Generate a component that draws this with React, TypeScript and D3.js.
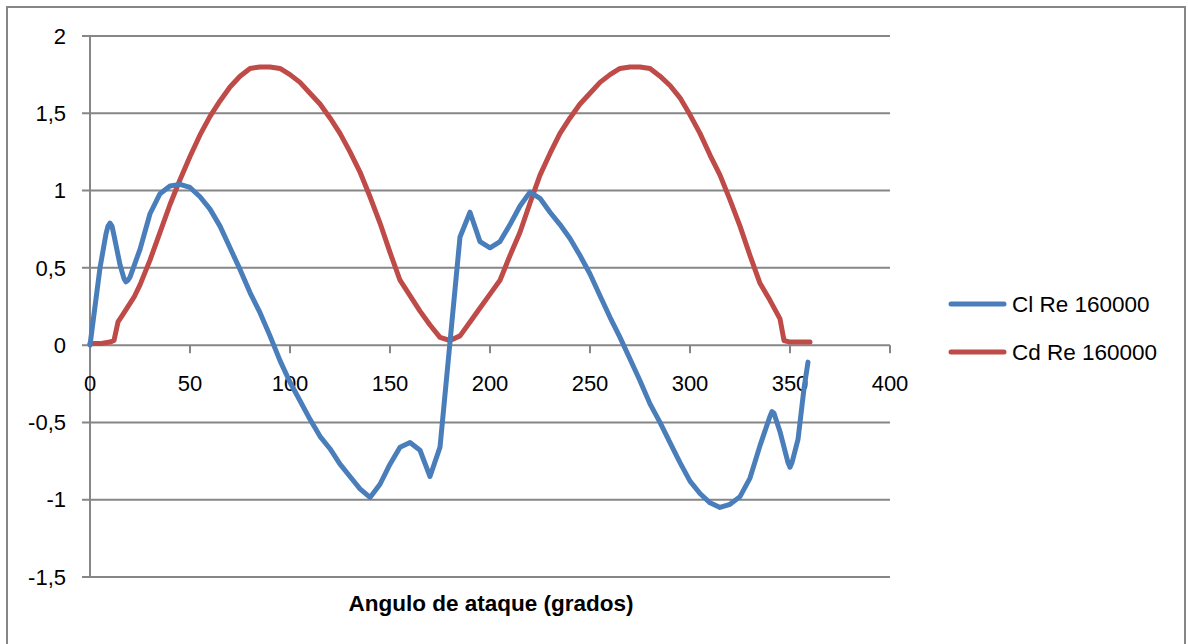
import React from 'react';
import * as d3 from 'd3';

// angle of attack (deg) and coefficients
const clAngles = [0, 5, 8, 9, 10, 11, 12, 15, 17, 18, 19, 20, 25, 30, 35, 40, 45, 50, 55, 60, 65, 70, 75, 80, 85, 90, 95, 100, 105, 110, 115, 120, 125, 130, 135, 140, 145, 150, 155, 160, 165, 170, 175, 185, 190, 195, 200, 205, 210, 215, 220, 225, 230, 235, 240, 245, 250, 255, 260, 265, 270, 275, 280, 285, 290, 295, 300, 305, 310, 315, 320, 325, 330, 335, 340, 341, 342, 345, 349, 350, 351, 354, 357, 359];
const clValues = [0, 0.5, 0.72, 0.77, 0.79, 0.77, 0.71, 0.52, 0.43, 0.41, 0.42, 0.44, 0.62, 0.85, 0.98, 1.03, 1.04, 1.02, 0.96, 0.88, 0.77, 0.63, 0.49, 0.34, 0.21, 0.06, -0.1, -0.24, -0.36, -0.48, -0.59, -0.67, -0.77, -0.85, -0.93, -0.985, -0.9, -0.77, -0.66, -0.63, -0.68, -0.85, -0.66, 0.7, 0.86, 0.67, 0.63, 0.67, 0.78, 0.9, 0.99, 0.95, 0.86, 0.78, 0.69, 0.58, 0.46, 0.32, 0.18, 0.05, -0.09, -0.23, -0.38, -0.5, -0.63, -0.76, -0.88, -0.96, -1.02, -1.05, -1.03, -0.98, -0.86, -0.65, -0.46, -0.43, -0.44, -0.56, -0.76, -0.79, -0.76, -0.61, -0.28, -0.11];

const cdAngles = [0, 5, 10, 12, 14, 16, 18, 20, 22, 25, 30, 35, 40, 45, 50, 55, 60, 65, 70, 75, 80, 85, 90, 95, 100, 105, 110, 115, 120, 125, 130, 135, 140, 145, 150, 155, 160, 165, 170, 175, 180, 185, 190, 195, 200, 205, 210, 215, 220, 225, 230, 235, 240, 245, 250, 255, 260, 265, 270, 275, 280, 285, 290, 295, 300, 305, 310, 315, 320, 325, 330, 335, 340, 345, 347, 350, 355, 360];
const cdValues = [0.01, 0.01, 0.02, 0.03, 0.15, 0.19, 0.23, 0.27, 0.31, 0.39, 0.55, 0.73, 0.91, 1.07, 1.22, 1.36, 1.48, 1.58, 1.67, 1.74, 1.79, 1.8, 1.8, 1.79, 1.75, 1.7, 1.63, 1.56, 1.47, 1.37, 1.25, 1.12, 0.96, 0.79, 0.6, 0.42, 0.32, 0.22, 0.13, 0.05, 0.03, 0.06, 0.15, 0.24, 0.33, 0.42, 0.58, 0.73, 0.92, 1.1, 1.24, 1.37, 1.47, 1.56, 1.63, 1.7, 1.75, 1.79, 1.8, 1.8, 1.79, 1.74, 1.68, 1.6, 1.49, 1.37, 1.23, 1.1, 0.94, 0.77, 0.58, 0.4, 0.29, 0.17, 0.03, 0.02, 0.02, 0.02];

const xTicks = [0, 50, 100, 150, 200, 250, 300, 350, 400];
const yTicks = [-1.5, -1, -0.5, 0, 0.5, 1, 1.5, 2];

const seriesNames = ['Cl Re 160000', 'Cd Re 160000'];
const seriesColors = ['#4A7EBB', '#BE4B48'];

const W = 1188;
const H = 644;
const FONT = '"Liberation Sans", Arial, sans-serif';
const GRID = '#868686';

export default function App() {
  const x = d3.scaleLinear().domain([0, 400]).range([90, 890]);
  const y = d3.scaleLinear().domain([-1.5, 2]).range([577, 36]);

  const line = d3.line<[number, number]>()
    .x(d => x(d[0]))
    .y(d => y(d[1]));

  const cl = clAngles.map((a, i) => [a, clValues[i]] as [number, number]);
  const cd = cdAngles.map((a, i) => [a, cdValues[i]] as [number, number]);
  const fmt = (v: number) => String(v).replace('.', ',');

  return (
    <div style={{ position: 'absolute', left: 0, top: 0 }}>
      <svg width={W} height={H} style={{ display: 'block', background: '#fff' }}>
        <rect x={7} y={7} width={1178} height={660} fill="#fff" stroke={GRID} strokeWidth={2} />

        {yTicks.map(t => (
          <g key={t}>
            <line x1={82} x2={x(400)} y1={y(t)} y2={y(t)} stroke={GRID} strokeWidth={2} />
            <text x={66} y={y(t)} dy="0.35em" textAnchor="end" fontFamily={FONT} fontSize={22} fill="#000">{fmt(t)}</text>
          </g>
        ))}

        <line x1={x(0)} x2={x(0)} y1={y(2)} y2={y(-1.5)} stroke={GRID} strokeWidth={2} />

        {xTicks.map(t => (
          <g key={t}>
            <line x1={x(t)} x2={x(t)} y1={y(0)} y2={y(0) + 8} stroke={GRID} strokeWidth={2} />
            <text x={x(t)} y={391} textAnchor="middle" fontFamily={FONT} fontSize={22} fill="#000">{t}</text>
          </g>
        ))}

        <path d={line(cd) || ''} fill="none" stroke={seriesColors[1]} strokeWidth={5} strokeLinejoin="round" strokeLinecap="round" />
        <path d={line(cl) || ''} fill="none" stroke={seriesColors[0]} strokeWidth={5} strokeLinejoin="round" strokeLinecap="round" />

        <text x={491} y={611} textAnchor="middle" fontFamily={FONT} fontWeight="bold" fontSize={22.5} fill="#000">Angulo de ataque (grados)</text>

        {seriesNames.map((name, i) => (
          <g key={name} transform={`translate(0,${304 + i * 48})`}>
            <line x1={951} x2={1004} y1={0} y2={0} stroke={seriesColors[i]} strokeWidth={5} strokeLinecap="round" />
            <text x={1012} y={0} dy="0.35em" fontFamily={FONT} fontSize={22.5} fill="#000">{name}</text>
          </g>
        ))}
      </svg>
    </div>
  );
}
